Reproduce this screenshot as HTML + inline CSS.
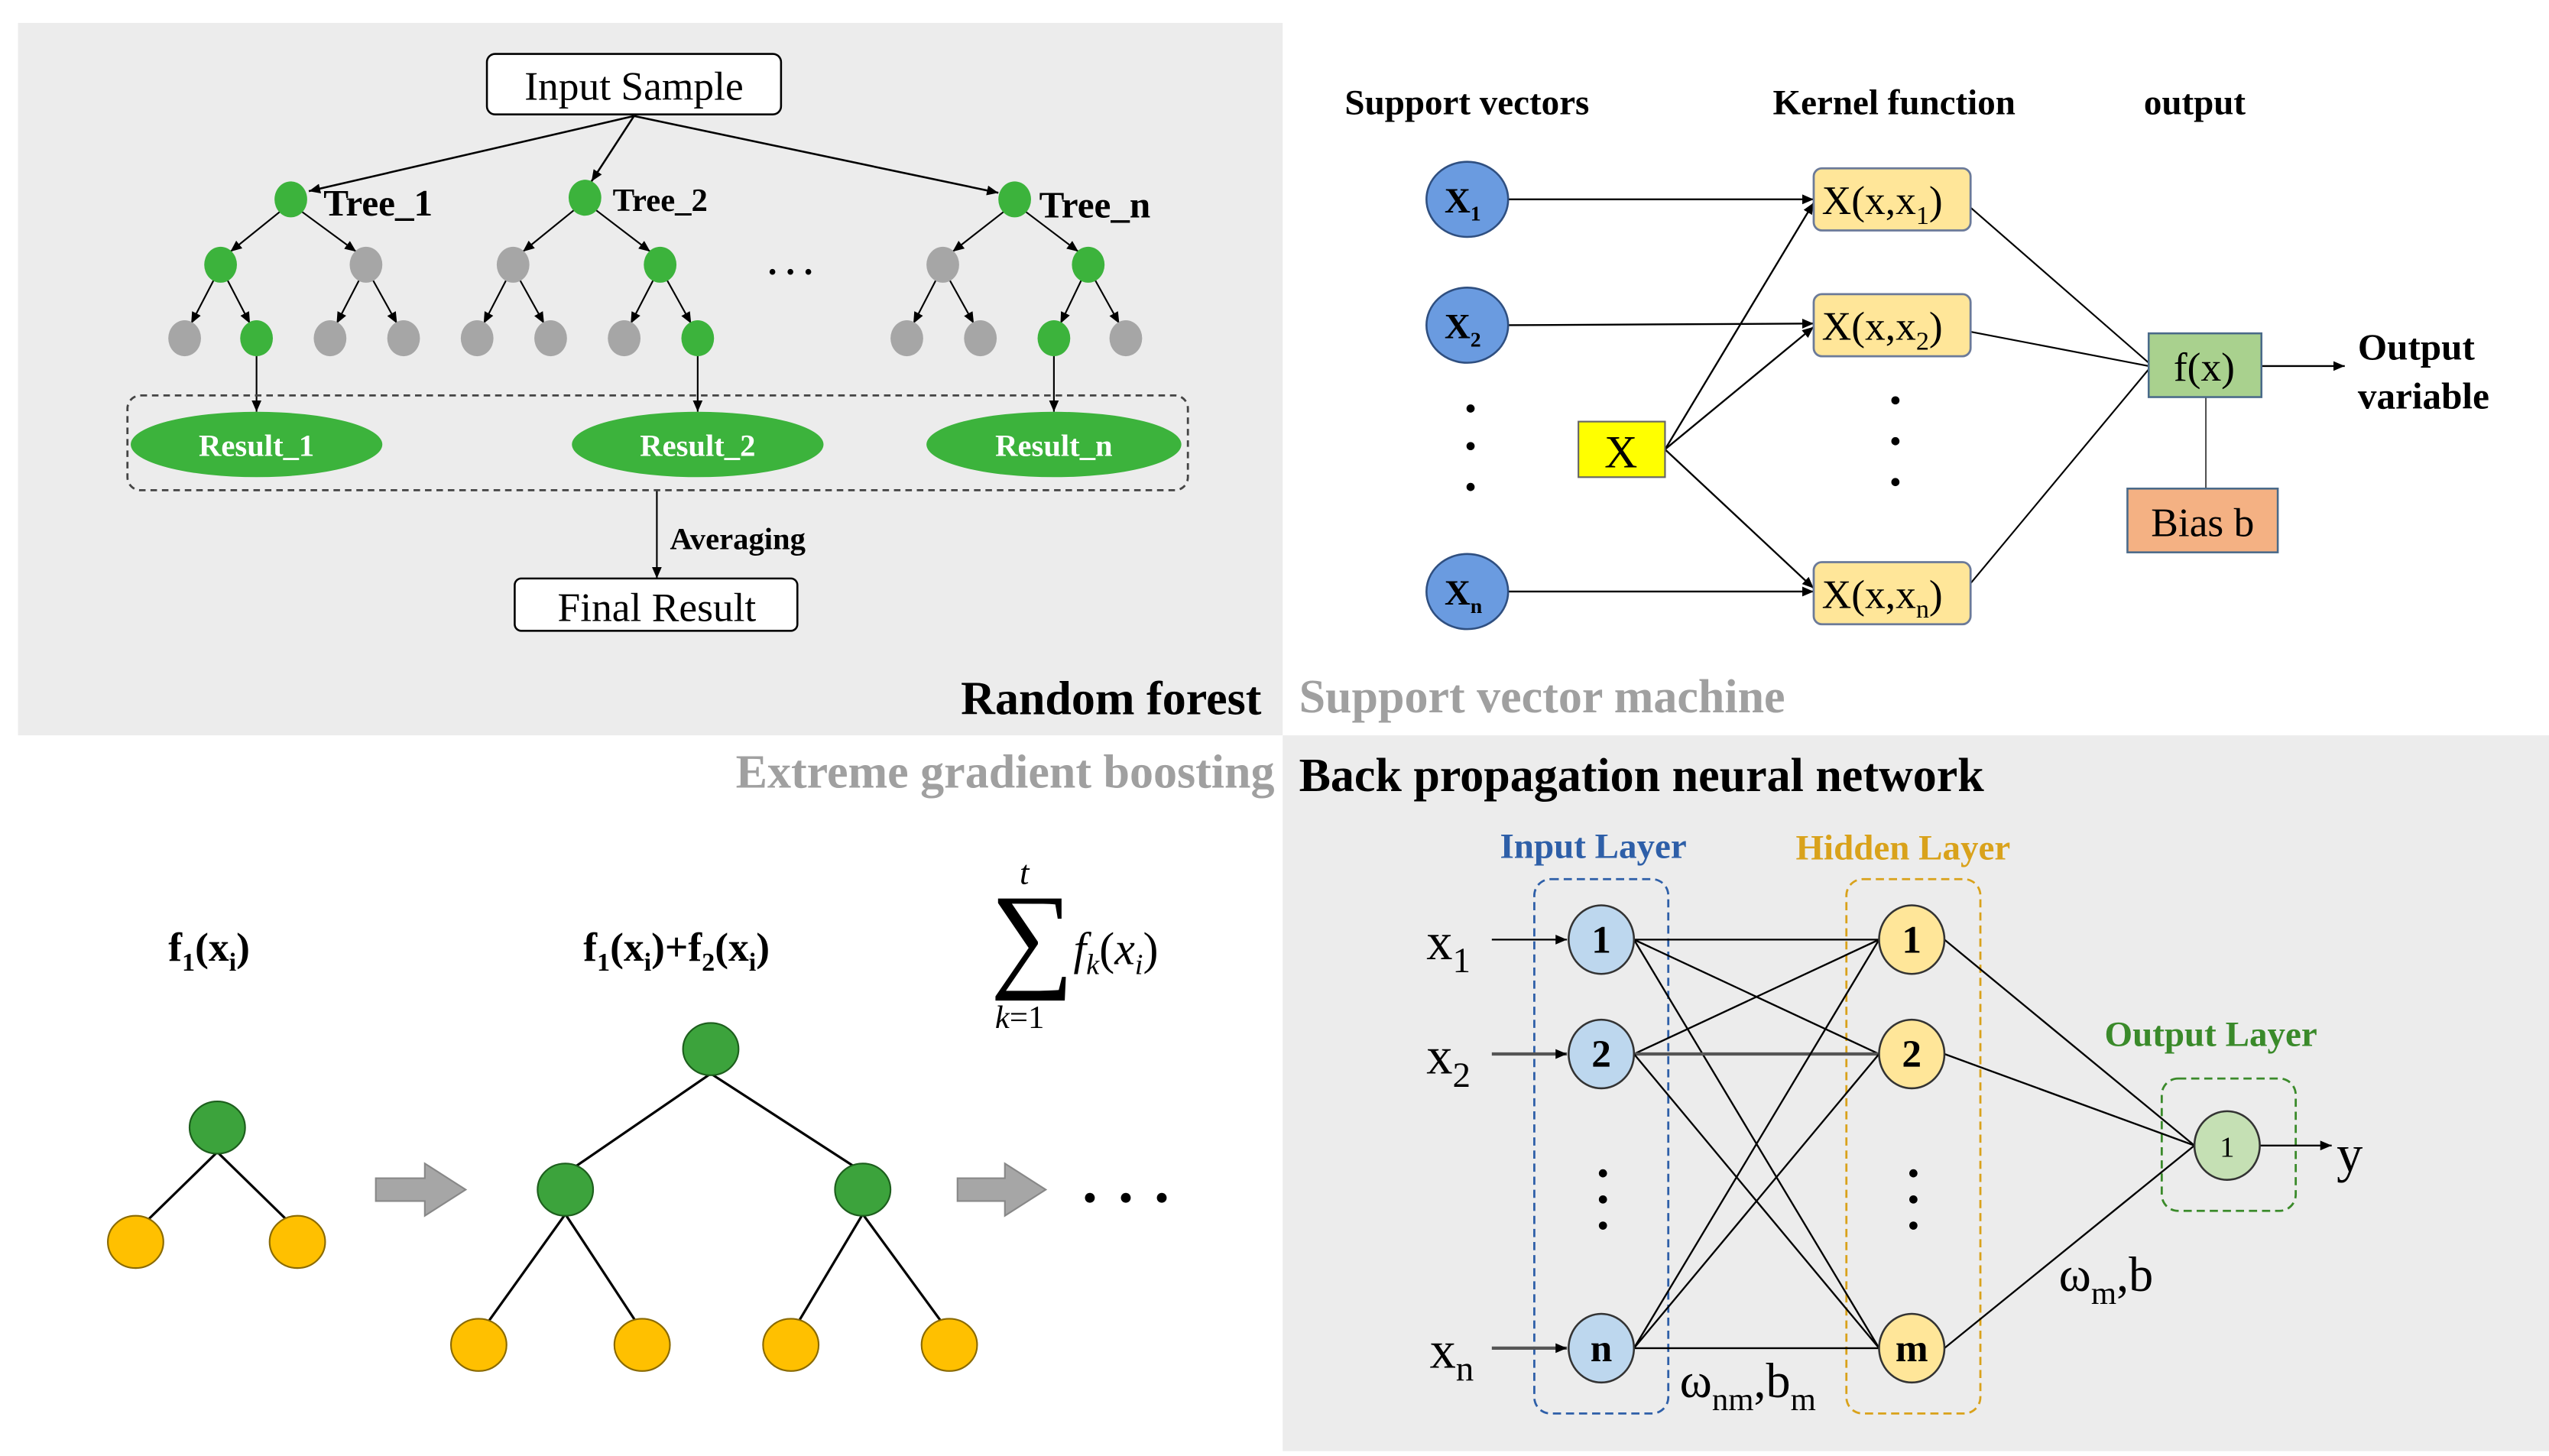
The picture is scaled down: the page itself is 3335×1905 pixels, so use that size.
<!DOCTYPE html>
<html><head><meta charset="utf-8"><style>
html,body{margin:0;padding:0;background:#fff;width:3335px;height:1905px;overflow:hidden}
svg{display:block}
text{font-family:"Liberation Serif",serif}
.b{font-weight:bold}
</style></head><body>
<svg width="3335" height="1905" viewBox="0 0 1560 891" preserveAspectRatio="none" xmlns="http://www.w3.org/2000/svg">
<defs>
<marker id="a" markerWidth="8" markerHeight="8" refX="7" refY="4" orient="auto" markerUnits="userSpaceOnUse"><path d="M0,1 L7,4 L0,7 z" fill="#000"/></marker>
</defs>
<rect x="11" y="14" width="774" height="436" fill="#ececec"/>
<rect x="785" y="450" width="775" height="438" fill="#ececec"/>

<!-- Random forest -->
<rect x="298" y="33" width="180" height="37" rx="5" fill="#fff" stroke="#000" stroke-width="1.2"/>
<text x="388" y="61" font-size="25" text-anchor="middle">Input Sample</text>
<g stroke="#000" stroke-width="1.2" marker-end="url(#a)">
<line x1="388" y1="71" x2="189" y2="117"/>
<line x1="388" y1="71" x2="362" y2="111"/>
<line x1="388" y1="71" x2="611" y2="118"/>
</g>
<g stroke="#000" stroke-width="1" marker-end="url(#a)">
<line x1="172" y1="129" x2="141" y2="154"/><line x1="184" y1="129" x2="218" y2="154"/>
<line x1="352" y1="128" x2="320" y2="154"/><line x1="364" y1="128" x2="398" y2="154"/>
<line x1="615" y1="129" x2="583" y2="154"/><line x1="627" y1="129" x2="660" y2="154"/>
<line x1="131" y1="171" x2="117" y2="198"/><line x1="139" y1="171" x2="153" y2="198"/>
<line x1="220" y1="171" x2="206" y2="198"/><line x1="228" y1="171" x2="243" y2="198"/>
<line x1="310" y1="171" x2="296" y2="198"/><line x1="318" y1="171" x2="333" y2="198"/>
<line x1="400" y1="171" x2="386" y2="198"/><line x1="408" y1="171" x2="423" y2="198"/>
<line x1="573" y1="171" x2="559" y2="198"/><line x1="581" y1="171" x2="596" y2="198"/>
<line x1="662" y1="171" x2="649" y2="198"/><line x1="670" y1="171" x2="685" y2="198"/>
<line x1="157" y1="217" x2="157" y2="252"/><line x1="427" y1="217" x2="427" y2="252"/><line x1="645" y1="217" x2="645" y2="252"/>
<line x1="402" y1="300" x2="402" y2="354"/>
</g>
<g fill="#3cb33c">
<ellipse cx="178" cy="122" rx="10" ry="11"/><ellipse cx="358" cy="121" rx="10" ry="11"/><ellipse cx="621" cy="122" rx="10" ry="11"/>
<ellipse cx="135" cy="162" rx="10" ry="11"/><ellipse cx="404" cy="162" rx="10" ry="11"/><ellipse cx="666" cy="162" rx="10" ry="11"/>
<ellipse cx="157" cy="207" rx="10" ry="11"/><ellipse cx="427" cy="207" rx="10" ry="11"/><ellipse cx="645" cy="207" rx="10" ry="11"/>
</g>
<g fill="#a6a6a6">
<ellipse cx="224" cy="162" rx="10" ry="11"/><ellipse cx="314" cy="162" rx="10" ry="11"/><ellipse cx="577" cy="162" rx="10" ry="11"/>
<ellipse cx="113" cy="207" rx="10" ry="11"/><ellipse cx="202" cy="207" rx="10" ry="11"/><ellipse cx="247" cy="207" rx="10" ry="11"/>
<ellipse cx="292" cy="207" rx="10" ry="11"/><ellipse cx="337" cy="207" rx="10" ry="11"/><ellipse cx="382" cy="207" rx="10" ry="11"/>
<ellipse cx="555" cy="207" rx="10" ry="11"/><ellipse cx="600" cy="207" rx="10" ry="11"/><ellipse cx="689" cy="207" rx="10" ry="11"/>
</g>
<text x="198" y="132" font-size="23" class="b">Tree_1</text>
<text x="375" y="129" font-size="20" class="b">Tree_2</text>
<text x="636" y="133" font-size="23" class="b">Tree_n</text>
<text x="470" y="168" font-size="22" class="b">. . .</text>
<rect x="78" y="242" width="649" height="58" rx="8" fill="none" stroke="#444" stroke-width="1.3" stroke-dasharray="4,3"/>
<ellipse cx="157" cy="272" rx="77" ry="20" fill="#3cb33c"/>
<ellipse cx="427" cy="272" rx="77" ry="20" fill="#3cb33c"/>
<ellipse cx="645" cy="272" rx="78" ry="20" fill="#3cb33c"/>
<g fill="#fff" font-size="19" class="b" text-anchor="middle">
<text x="157" y="279" class="b">Result_1</text><text x="427" y="279" class="b">Result_2</text><text x="645" y="279" class="b">Result_n</text>
</g>
<text x="410" y="336" font-size="19" class="b">Averaging</text>
<rect x="315" y="354" width="173" height="32" rx="4" fill="#fff" stroke="#000" stroke-width="1.2"/>
<text x="402" y="380" font-size="25" text-anchor="middle">Final Result</text>
<text x="772" y="437" font-size="29" class="b" text-anchor="end">Random forest</text>

<!-- SVM -->
<g font-size="22" class="b">
<text x="823" y="70">Support vectors</text><text x="1085" y="70">Kernel function</text><text x="1312" y="70">output</text>
</g>
<g stroke="#000" stroke-width="1.1" marker-end="url(#a)">
<line x1="923" y1="122" x2="1110" y2="122"/>
<line x1="923" y1="199" x2="1110" y2="198"/>
<line x1="923" y1="362" x2="1110" y2="362"/>
<line x1="1019" y1="275" x2="1110" y2="124"/>
<line x1="1019" y1="275" x2="1110" y2="200"/>
<line x1="1019" y1="275" x2="1110" y2="360"/>
<line x1="1384" y1="224" x2="1435" y2="224"/>
</g>
<g stroke="#000" stroke-width="1">
<line x1="1206" y1="127" x2="1315" y2="222"/>
<line x1="1206" y1="203" x2="1315" y2="224"/>
<line x1="1206" y1="357" x2="1315" y2="226"/>
<line x1="1350" y1="243" x2="1350" y2="299" stroke="#555"/>
</g>
<g fill="#6a9be0" stroke="#2f4f80" stroke-width="1.2">
<ellipse cx="898" cy="122" rx="25" ry="23"/><ellipse cx="898" cy="199" rx="25" ry="23"/><ellipse cx="898" cy="362" rx="25" ry="23"/>
</g>
<g font-size="22" class="b">
<text x="884" y="130">X<tspan font-size="13" dy="5">1</tspan></text>
<text x="884" y="207">X<tspan font-size="13" dy="5">2</tspan></text>
<text x="884" y="370">X<tspan font-size="13" dy="5">n</tspan></text>
</g>
<g fill="#000"><circle cx="900" cy="250" r="2.5"/><circle cx="900" cy="273" r="2.5"/><circle cx="900" cy="298" r="2.5"/>
<circle cx="1160" cy="245" r="2.5"/><circle cx="1160" cy="270" r="2.5"/><circle cx="1160" cy="295" r="2.5"/></g>
<rect x="966" y="258" width="53" height="34" fill="#ffff00" stroke="#666" stroke-width="1"/>
<text x="992" y="286" font-size="28" text-anchor="middle">X</text>
<g fill="#ffe699" stroke="#6b7a99" stroke-width="1.3">
<rect x="1110" y="103" width="96" height="38" rx="5"/><rect x="1110" y="180" width="96" height="38" rx="5"/><rect x="1110" y="344" width="96" height="38" rx="5"/>
</g>
<g font-size="25">
<text x="1115" y="131">X(x,x<tspan font-size="16" dy="6">1</tspan><tspan dy="-6">)</tspan></text>
<text x="1115" y="208">X(x,x<tspan font-size="16" dy="6">2</tspan><tspan dy="-6">)</tspan></text>
<text x="1115" y="372">X(x,x<tspan font-size="16" dy="6">n</tspan><tspan dy="-6">)</tspan></text>
</g>
<rect x="1315" y="204" width="69" height="39" fill="#a9d18e" stroke="#4a6a8a" stroke-width="1.2"/>
<text x="1349" y="233" font-size="25" text-anchor="middle">f(x)</text>
<rect x="1302" y="299" width="92" height="39" fill="#f4b183" stroke="#4a6a8a" stroke-width="1.2"/>
<text x="1348" y="328" font-size="25" text-anchor="middle">Bias b</text>
<text x="1443" y="220" font-size="23" class="b">Output</text>
<text x="1443" y="250" font-size="23" class="b">variable</text>
<text x="795" y="436" font-size="29" class="b" fill="#a0a0a0">Support vector machine</text>

<!-- XGB -->
<text x="780" y="482" font-size="29" class="b" fill="#a0a0a0" text-anchor="end">Extreme gradient boosting</text>
<text x="103" y="588" font-size="25" class="b">f<tspan font-size="16" dy="6">1</tspan><tspan dy="-6">(x</tspan><tspan font-size="16" dy="6">i</tspan><tspan dy="-6">)</tspan></text>
<text x="357" y="588" font-size="25" class="b">f<tspan font-size="16" dy="6">1</tspan><tspan dy="-6">(x</tspan><tspan font-size="16" dy="6">i</tspan><tspan dy="-6">)+f</tspan><tspan font-size="16" dy="6">2</tspan><tspan dy="-6">(x</tspan><tspan font-size="16" dy="6">i</tspan><tspan dy="-6">)</tspan></text>
<text x="624" y="541" font-size="21" font-style="italic">t</text>
<text x="606" y="597" font-size="72">∑</text>
<text x="609" y="629" font-size="20"><tspan font-style="italic">k</tspan>=1</text>
<text x="657" y="590" font-size="28" font-style="italic">f<tspan font-size="18" dy="6">k</tspan><tspan dy="-6" font-style="normal">(</tspan>x<tspan font-size="18" dy="6">i</tspan><tspan dy="-6" font-style="normal">)</tspan></text>
<g stroke="#000" stroke-width="1.5">
<line x1="133" y1="705" x2="90" y2="747"/><line x1="133" y1="705" x2="176" y2="747"/>
<line x1="435" y1="657" x2="352" y2="714"/><line x1="435" y1="657" x2="523" y2="714"/>
<line x1="346" y1="743" x2="298" y2="810"/><line x1="346" y1="743" x2="390" y2="810"/>
<line x1="528" y1="743" x2="488" y2="810"/><line x1="528" y1="743" x2="577" y2="810"/>
</g>
<g fill="#3ca33c" stroke="#1d5e1d" stroke-width="1">
<ellipse cx="133" cy="690" rx="17" ry="16"/><ellipse cx="435" cy="642" rx="17" ry="16"/>
<ellipse cx="346" cy="728" rx="17" ry="16"/><ellipse cx="528" cy="728" rx="17" ry="16"/>
</g>
<g fill="#ffc000" stroke="#8a6a00" stroke-width="1">
<ellipse cx="83" cy="760" rx="17" ry="16"/><ellipse cx="182" cy="760" rx="17" ry="16"/>
<ellipse cx="293" cy="823" rx="17" ry="16"/><ellipse cx="393" cy="823" rx="17" ry="16"/>
<ellipse cx="484" cy="823" rx="17" ry="16"/><ellipse cx="581" cy="823" rx="17" ry="16"/>
</g>
<path d="M230,721 H260 V712 L285,728 L260,744 V735 H230 Z" fill="#a6a6a6" stroke="#888"/>
<path d="M586,721 H615 V712 L640,728 L615,744 V735 H586 Z" fill="#a6a6a6" stroke="#888"/>
<g fill="#000"><circle cx="667" cy="733" r="3"/><circle cx="689" cy="733" r="3"/><circle cx="711" cy="733" r="3"/></g>

<!-- BPNN -->
<text x="795" y="484" font-size="29" class="b">Back propagation neural network</text>
<text x="918" y="525" font-size="22" class="b" fill="#2e5fa8">Input Layer</text>
<text x="1099" y="526" font-size="22" class="b" fill="#d9a21b">Hidden Layer</text>
<text x="1288" y="640" font-size="22" class="b" fill="#3a8a2a">Output Layer</text>
<rect x="939" y="538" width="82" height="327" rx="10" fill="none" stroke="#2e5fa8" stroke-width="1.3" stroke-dasharray="5,3"/>
<rect x="1130" y="538" width="82" height="327" rx="10" fill="none" stroke="#d9a21b" stroke-width="1.3" stroke-dasharray="5,3"/>
<rect x="1323" y="660" width="82" height="81" rx="10" fill="none" stroke="#3a8a2a" stroke-width="1.3" stroke-dasharray="5,3"/>
<g stroke="#000" stroke-width="1.1">
<line x1="1000" y1="575" x2="1150" y2="575"/><line x1="1000" y1="575" x2="1150" y2="645"/><line x1="1000" y1="575" x2="1150" y2="825"/>
<line x1="1000" y1="645" x2="1150" y2="575"/><line x1="1000" y1="645" x2="1150" y2="645" stroke="#555" stroke-width="2"/><line x1="1000" y1="645" x2="1150" y2="825"/>
<line x1="1000" y1="825" x2="1150" y2="575"/><line x1="1000" y1="825" x2="1150" y2="645"/><line x1="1000" y1="825" x2="1150" y2="825"/>
<line x1="1190" y1="575" x2="1343" y2="701"/><line x1="1190" y1="645" x2="1343" y2="701"/><line x1="1190" y1="825" x2="1343" y2="701"/>
</g>
<g stroke="#000" stroke-width="1.1" marker-end="url(#a)">
<line x1="913" y1="575" x2="959" y2="575"/><line x1="913" y1="645" x2="959" y2="645" stroke="#555" stroke-width="2"/><line x1="913" y1="825" x2="959" y2="825" stroke="#555" stroke-width="2"/>
<line x1="1383" y1="701" x2="1427" y2="701"/>
</g>
<g fill="#bdd7ee" stroke="#333" stroke-width="1.2">
<ellipse cx="980" cy="575" rx="20" ry="21"/><ellipse cx="980" cy="645" rx="20" ry="21"/><ellipse cx="980" cy="825" rx="20" ry="21"/>
</g>
<g fill="#ffe699" stroke="#333" stroke-width="1.2">
<ellipse cx="1170" cy="575" rx="20" ry="21"/><ellipse cx="1170" cy="645" rx="20" ry="21"/><ellipse cx="1170" cy="825" rx="20" ry="21"/>
</g>
<ellipse cx="1363" cy="701" rx="20" ry="21" fill="#c5e0b4" stroke="#333" stroke-width="1.2"/>
<g font-size="24" class="b" text-anchor="middle">
<text x="980" y="583" class="b">1</text><text x="980" y="653" class="b">2</text><text x="980" y="833" class="b">n</text>
<text x="1170" y="583" class="b">1</text><text x="1170" y="653" class="b">2</text><text x="1170" y="833" class="b">m</text>
</g>
<text x="1363" y="708" font-size="18" text-anchor="middle">1</text>
<g fill="#000"><circle cx="981" cy="718" r="2.5"/><circle cx="981" cy="734" r="2.5"/><circle cx="981" cy="750" r="2.5"/>
<circle cx="1171" cy="718" r="2.5"/><circle cx="1171" cy="734" r="2.5"/><circle cx="1171" cy="750" r="2.5"/></g>
<g font-size="32">
<text x="873" y="587">x<tspan font-size="22" dy="8">1</tspan></text>
<text x="873" y="657">x<tspan font-size="22" dy="8">2</tspan></text>
<text x="875" y="837">x<tspan font-size="22" dy="8">n</tspan></text>
<text x="1430" y="717">y</text>
</g>
<text x="1028" y="855" font-size="30">ω<tspan font-size="20" dy="8">nm</tspan><tspan dy="-8">,b</tspan><tspan font-size="20" dy="8">m</tspan></text>
<text x="1260" y="790" font-size="30">ω<tspan font-size="20" dy="8">m</tspan><tspan dy="-8">,b</tspan></text>
</svg>
</body></html>
